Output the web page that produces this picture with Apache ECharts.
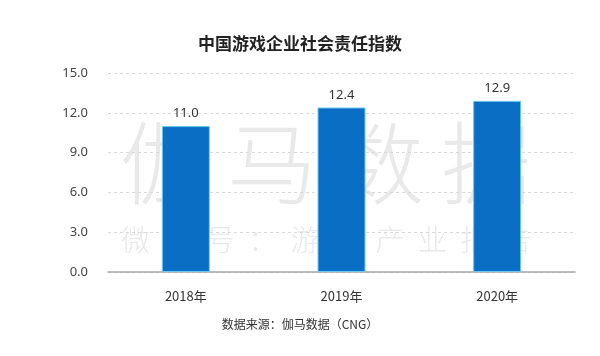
<!DOCTYPE html>
<html><head><meta charset="utf-8">
<script src="https://cdn.jsdelivr.net/npm/echarts@6/dist/echarts.min.js"></script>
<style>html,body{margin:0;padding:0;background:#fff}#c{width:600px;height:356px}</style>
</head><body><div id="c"></div>
<script>
const categories = ['2018年', '2019年', '2020年'];
const values = [11.0, 12.4, 12.9];
const yTicks = [0, 3, 6, 9, 12, 15];
const titleText = '中国游戏企业社会责任指数';
const sourceText = '数据来源：伽马数据（CNG）';
const watermark1 = '伽马数据';
const watermark2 = '微信号：游戏产业报告';

const wm = [];
Array.from(watermark1).forEach((ch, i) => wm.push({
  type: 'text', left: 120 + i * 107, top: 118, silent: true, z: 0,
  style: {text: ch, fontFamily: 'Noto Sans CJK SC', fontSize: 90, fontWeight: 300, fill: '#e9e9e9'}
}));
Array.from(watermark2).forEach((ch, i) => wm.push({
  type: 'text', left: 121 + i * 42.4, top: 225, silent: true, z: 0,
  style: {text: ch, fontFamily: 'Noto Sans CJK SC', fontSize: 29, fontWeight: 300, fill: '#e9e9e9'}
}));

const chart = echarts.init(document.getElementById('c'), null, {renderer: 'canvas'});
chart.setOption({
  animation: false,
  backgroundColor: '#fff',
  title: {
    text: titleText, left: 'center', top: 30,
    textStyle: {fontFamily: 'Noto Sans CJK SC', fontSize: 17, fontWeight: 'bold', color: '#222'}
  },
  grid: {left: 108, right: 25, top: 73, bottom: 84},
  xAxis: {
    type: 'category', data: categories,
    axisLine: {lineStyle: {color: '#a6a6a6', width: 1.5}},
    axisTick: {show: false},
    axisLabel: {fontFamily: 'Noto Sans CJK SC', fontSize: 13, color: '#333', margin: 18}
  },
  yAxis: {
    type: 'value', min: yTicks[0], max: yTicks[yTicks.length - 1], interval: 3,
    axisLine: {show: false}, axisTick: {show: false},
    axisLabel: {fontFamily: 'Noto Sans', fontSize: 13, color: '#444', margin: 20,
      formatter: v => v.toFixed(1)},
    splitLine: {lineStyle: {color: '#d9d9d9', type: [3, 3]}}
  },
  series: [{
    type: 'bar', data: values, barWidth: 48, z: 5,
    itemStyle: {color: '#0a6fc4', borderColor: '#6fc8f0', borderWidth: 1},
    label: {show: true, position: 'top', fontFamily: 'Noto Sans', fontSize: 13, color: '#333',
      distance: 6, formatter: p => p.value.toFixed(1)}
  }],
  graphic: {elements: [
    {type: 'text', left: 'center', top: 318, style: {text: sourceText, fontFamily: 'Noto Sans CJK SC', fontSize: 12, fill: '#333'}},
    ...wm
  ]}
});
</script></body></html>
